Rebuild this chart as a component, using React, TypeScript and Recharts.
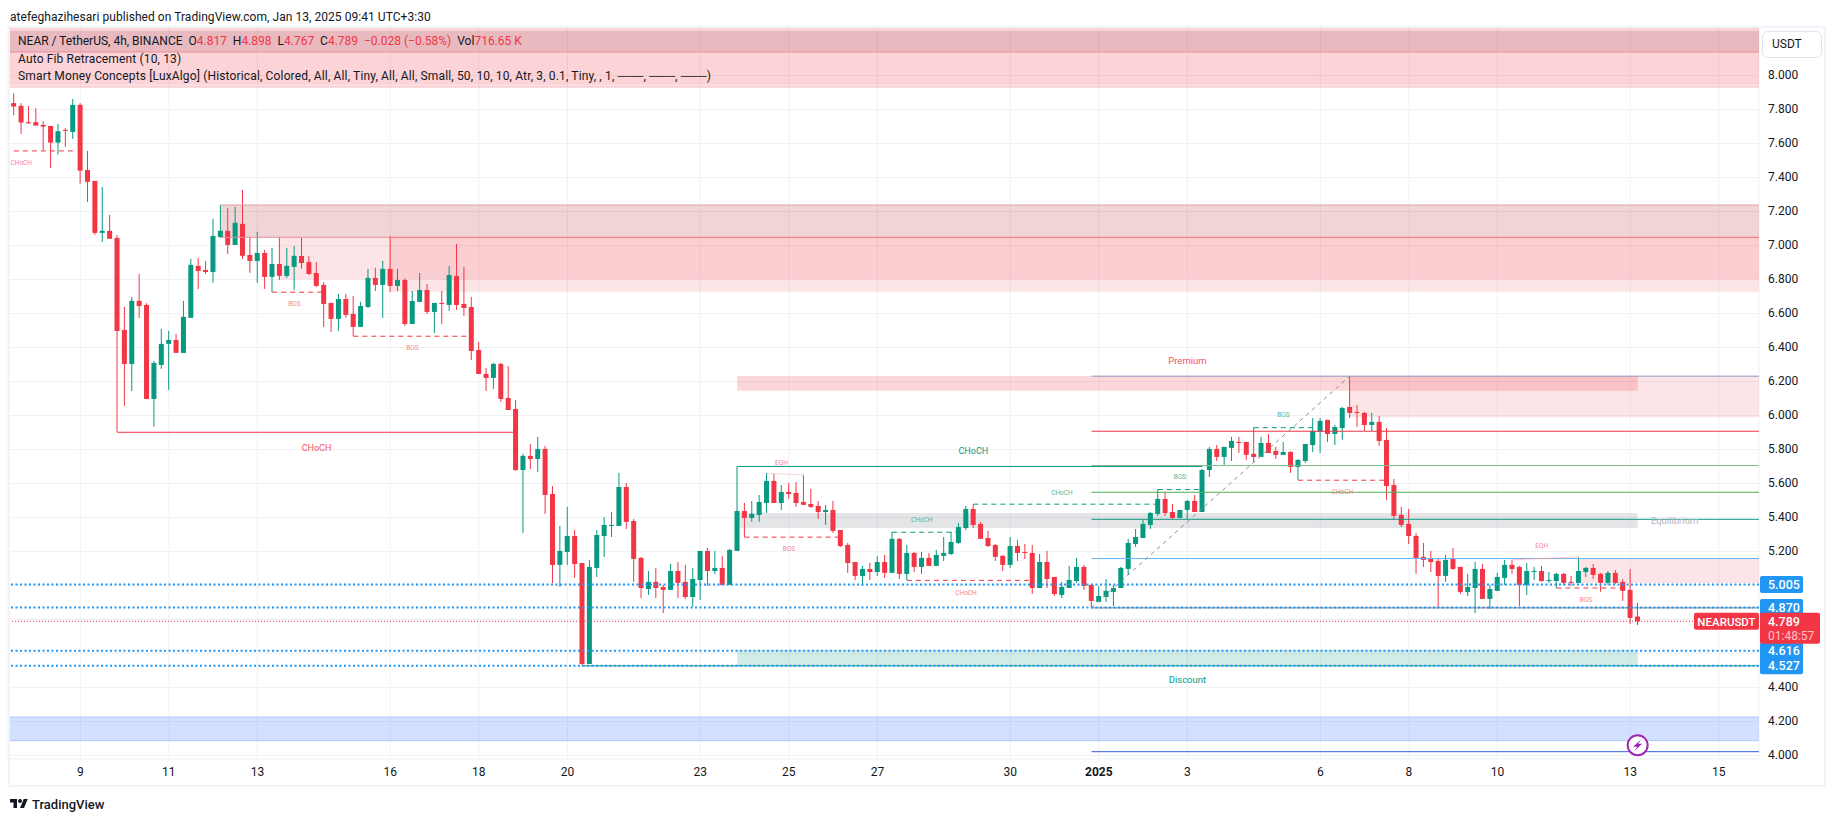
import React from "react";
import {
  ComposedChart, Bar, XAxis, YAxis, CartesianGrid, ReferenceLine, ReferenceArea, ReferenceDot,
} from "recharts";

// [open, high, low, close] for every 4h bar
const barsDecA = [
  [7.837,7.895,7.766,7.817],[7.821,7.837,7.656,7.723],[7.725,7.821,7.715,7.719],[7.725,7.807,7.705,7.705],[7.709,7.731,7.558,7.699],
  [7.703,7.703,7.456,7.605],[7.605,7.715,7.535,7.672],[7.680,7.691,7.580,7.676],[7.668,7.862,7.627,7.827],[7.827,7.837,7.362,7.440],
  [7.444,7.556,7.256,7.374],[7.380,7.380,7.062,7.074],[7.074,7.344,7.021,7.086],[7.086,7.180,7.039,7.039],[7.044,7.062,5.901,6.497],
  [6.503,6.639,6.056,6.303],[6.303,6.697,6.144,6.674],[6.674,6.833,6.574,6.644],[6.650,6.660,6.097,6.097],[6.097,6.321,5.933,6.309],
  [6.297,6.509,6.274,6.421],[6.421,6.497,6.150,6.444],[6.444,6.480,6.368,6.368],[6.368,6.674,6.368,6.580],[6.574,6.921,6.574,6.886],
  [6.880,6.927,6.744,6.850],[6.856,6.909,6.833,6.844],[6.844,7.156,6.780,7.056],[7.050,7.239,7.044,7.086],[7.086,7.221,6.950,7.003],
  [7.003,7.227,7.003,7.133],[7.127,7.327,6.921,6.939],[6.944,7.050,6.839,6.909],[6.909,7.080,6.780,6.956],[6.956,6.974,6.744,6.815],
  [6.815,6.986,6.725,6.891],[6.891,7.050,6.797,6.821],[6.821,6.986,6.809,6.880],[6.874,6.997,6.739,6.939],
];
const barsDecB = [
  [6.938,7.046,6.862,6.897],[6.903,6.938,6.826,6.832],[6.838,6.903,6.756,6.762],[6.768,6.783,6.521,6.656],[6.662,6.662,6.491,6.568],
  [6.568,6.715,6.497,6.685],[6.685,6.715,6.574,6.591],[6.597,6.703,6.466,6.521],[6.521,6.668,6.521,6.644],[6.638,6.862,6.632,6.809],
  [6.809,6.868,6.732,6.768],[6.768,6.909,6.574,6.862],[6.862,7.054,6.726,6.762],[6.762,6.862,6.732,6.797],[6.797,6.807,6.526,6.538],
  [6.538,6.732,6.538,6.673],[6.668,6.838,6.668,6.738],[6.738,6.773,6.597,6.609],[6.609,6.662,6.485,6.662],[6.662,6.732,6.538,6.656],
  [6.650,6.879,6.615,6.826],[6.821,7.009,6.621,6.650],[6.656,6.873,6.585,6.632],[6.638,6.697,6.326,6.379],[6.385,6.432,6.244,6.244],
  [6.244,6.279,6.144,6.221],[6.221,6.309,6.156,6.303],[6.303,6.309,6.079,6.097],[6.103,6.291,6.032,6.032],
];
const barsDecC = [
  [6.038,6.091,5.674,5.679],[5.679,5.774,5.309,5.762],[5.762,5.832,5.685,5.744],[5.744,5.874,5.668,5.803],[5.803,5.821,5.421,5.532],
  [5.538,5.585,5.015,5.121],[5.121,5.350,4.993,5.203],[5.197,5.462,5.121,5.291],[5.291,5.326,5.044,5.126],[5.132,5.132,4.528,4.538],
  [4.538,5.150,4.538,5.109],[5.103,5.326,5.050,5.297],[5.291,5.403,5.168,5.356],[5.350,5.432,5.285,5.356],[5.350,5.662,5.350,5.579],
  [5.579,5.603,5.332,5.374],[5.379,5.391,5.021,5.156],[5.162,5.168,4.926,4.985],[4.979,5.085,4.944,5.021],[5.021,5.103,4.926,4.985],
  [4.991,5.003,4.838,4.974],[4.974,5.126,4.974,5.085],[5.085,5.138,4.926,5.015],[5.021,5.121,4.921,4.932],[4.932,5.103,4.874,5.038],
  [5.032,5.203,4.915,5.203],[5.203,5.221,4.997,5.085],[5.085,5.203,5.068,5.103],[5.103,5.174,5.003,5.003],[5.003,5.215,5.003,5.209],
  [5.203,5.700,5.203,5.438],
];
const barsDecD = [
  [5.438,5.485,5.283,5.397],[5.397,5.497,5.374,5.421],[5.415,5.532,5.374,5.491],[5.485,5.662,5.426,5.615],[5.615,5.656,5.485,5.485],
  [5.485,5.591,5.444,5.550],[5.550,5.603,5.509,5.538],[5.544,5.609,5.462,5.485],[5.491,5.650,5.474,5.474],[5.479,5.568,5.456,5.462],
  [5.468,5.497,5.391,5.432],[5.432,5.474,5.356,5.444],[5.444,5.497,5.309,5.321],[5.326,5.326,5.226,5.232],[5.238,5.250,5.074,5.132],
  [5.138,5.138,5.032,5.056],[5.056,5.115,4.997,5.097],[5.097,5.132,5.032,5.079],[5.079,5.174,5.056,5.138],[5.138,5.179,5.044,5.074],
  [5.074,5.315,5.074,5.274],[5.274,5.279,5.038,5.068],[5.068,5.238,5.030,5.191],[5.191,5.197,5.079,5.109],[5.109,5.197,5.068,5.162],
  [5.162,5.191,5.115,5.115],[5.115,5.209,5.115,5.179],[5.174,5.285,5.144,5.191],[5.185,5.315,5.179,5.256],[5.250,5.368,5.244,5.344],
  [5.338,5.468,5.326,5.450],[5.450,5.479,5.338,5.356],[5.362,5.374,5.274,5.274],[5.279,5.321,5.226,5.232],[5.238,5.244,5.144,5.168],
];
const barsJanA = [
  [5.174,5.179,5.085,5.121],[5.121,5.285,5.103,5.232],[5.232,5.268,5.144,5.191],[5.197,5.244,5.156,5.191],[5.191,5.238,4.950,4.985],
  [4.985,5.185,4.985,5.138],[5.138,5.203,4.985,5.038],[5.050,5.050,4.938,4.950],[4.944,5.021,4.926,4.991],[4.985,5.115,4.985,5.032],
  [5.026,5.162,5.015,5.109],[5.109,5.121,4.974,4.997],[5.003,5.009,4.868,4.909],[4.903,4.997,4.903,4.938],[4.932,5.038,4.903,4.968],
  [4.962,5.003,4.879,4.985],[4.985,5.109,4.985,5.103],[5.097,5.274,5.062,5.250],[5.244,5.332,5.226,5.285],[5.279,5.385,5.279,5.362],
  [5.356,5.432,5.332,5.426],[5.421,5.566,5.409,5.509],[5.509,5.550,5.409,5.426],[5.432,5.480,5.391,5.397],[5.397,5.444,5.397,5.444],
  [5.444,5.503,5.391,5.497],[5.497,5.532,5.432,5.432],[5.432,5.685,5.432,5.679],[5.679,5.815,5.638,5.803],[5.803,5.826,5.732,5.756],
  [5.756,5.815,5.709,5.815],[5.809,5.874,5.732,5.850],[5.844,5.874,5.779,5.838],[5.844,5.844,5.738,5.768],[5.774,5.930,5.726,5.756],
  [5.756,5.874,5.756,5.838],[5.838,5.891,5.779,5.779],[5.791,5.815,5.744,5.768],[5.768,5.844,5.768,5.785],
];
const barsJanB = [
  [5.785,5.791,5.662,5.697],[5.697,5.744,5.621,5.738],[5.732,5.832,5.721,5.832],[5.826,5.985,5.785,5.909],[5.903,5.985,5.779,5.968],
  [5.974,5.974,5.844,5.891],[5.891,5.944,5.826,5.932],[5.926,6.050,5.856,6.044],[6.050,6.230,5.985,6.015],[6.021,6.062,5.932,6.015],
  [6.015,6.021,5.909,5.944],[5.944,6.015,5.909,5.962],[5.962,5.997,5.821,5.850],[5.856,5.926,5.503,5.585],[5.591,5.626,5.391,5.409],
  [5.415,5.462,5.344,5.356],[5.362,5.450,5.244,5.291],[5.291,5.309,5.068,5.162],[5.168,5.250,5.109,5.150],[5.156,5.203,5.079,5.138],
  [5.144,5.162,4.866,5.056],[5.056,5.179,5.021,5.150],[5.156,5.221,5.091,5.097],[5.109,5.109,4.950,4.962],[4.962,5.068,4.938,4.991],
  [4.985,5.138,4.838,5.097],[5.097,5.126,4.921,4.921],[4.921,5.003,4.862,4.979],[4.968,5.074,4.968,5.050],[5.044,5.150,5.003,5.121],
  [5.121,5.150,5.068,5.097],[5.109,5.115,4.879,5.003],[5.003,5.132,4.944,5.085],[5.079,5.109,5.032,5.085],[5.085,5.115,5.021,5.026],
  [5.026,5.079,5.015,5.032],[5.026,5.074,4.985,5.068],[5.068,5.074,5.003,5.015],[5.021,5.056,4.997,5.015],[5.015,5.168,5.015,5.085],
  [5.079,5.109,5.050,5.103],[5.103,5.126,5.038,5.062],[5.068,5.074,4.962,5.015],[5.015,5.085,5.003,5.074],[5.074,5.091,5.009,5.015],
  [5.021,5.038,4.909,4.968],[4.974,5.097,4.774,4.809],[4.817,4.898,4.767,4.789],
];

const priceTicks = [4, 4.2, 4.4, 4.6, 4.8, 5, 5.2, 5.4, 5.6, 5.8, 6, 6.2, 6.4, 6.6, 6.8, 7, 7.2, 7.4, 7.6, 7.8, 8];
const hiddenPriceLabels = [4.6, 4.8, 5];
const timeTicks = [9, 21, 33, 51, 63, 75, 93, 105, 117, 135, 147, 159, 177, 189, 201, 219, 231];
const timeLabels = ["9", "11", "13", "16", "18", "20", "23", "25", "27", "30", "2025", "3", "6", "8", "10", "13", "15"];

const UP = "#089981";
const DOWN = "#f23645";
const BLUE = "#2196f3";
const X_MIN = -0.795;
const X_MAX = 236.44;
const Y_MIN = 3.979;
const Y_MAX = 8.285;

// x1, x2, upper price, lower price, fill, opacity
const zones: [number, number, number, number, string, number][] = [
  [X_MIN, X_MAX, 8.285, 8.262, "#f23645", 0.22],
  [X_MIN, X_MAX, 8.262, 8.138, "#b21c2a", 0.3],
  [X_MIN, X_MAX, 8.138, 7.945, DOWN, 0.22],
  [X_MIN, X_MAX, 7.945, 7.932, DOWN, 0.14],
  [28, X_MAX, 7.238, 7.048, "#af2d32", 0.2],
  [36, X_MAX, 7.048, 6.8, DOWN, 0.13],
  [51, X_MAX, 7.048, 6.727, DOWN, 0.13],
  [98, 220, 6.232, 6.145, DOWN, 0.2],
  [181, X_MAX, 6.232, 5.99, DOWN, 0.13],
  [98, 220, 5.426, 5.338, "#787b86", 0.2],
  [212, X_MAX, 5.162, 5.015, DOWN, 0.13],
  [98, 220, 4.62, 4.527, UP, 0.19],
  [X_MIN, X_MAX, 4.226, 4.087, "#2962ff", 0.2],
];

// x1, x2, price at x1, price at x2, colour, width, dash
const segments: [number, number, number, number, string, number, string | undefined][] = [
  [X_MIN, X_MAX, 8.138, 8.138, "#ec8f97", 1, undefined],
  [X_MIN, X_MAX, 7.932, 7.932, "#f7b9be", 1, undefined],
  [28, X_MAX, 7.238, 7.238, "#e2a5a8", 1, undefined],
  [28, 51, 7.048, 7.048, "#e78c93", 1, undefined],
  [51, X_MAX, 7.048, 7.048, "#ee6c75", 1, undefined],
  [X_MIN, X_MAX, 4.226, 4.226, "#b4c9fb", 1, undefined],
  [X_MIN, X_MAX, 4.087, 4.087, "#b4c9fb", 1, undefined],
  // auto fib levels
  [146, X_MAX, 6.231, 6.231, "#8a9bc4", 1, undefined],
  [146, X_MAX, 5.907, 5.907, DOWN, 1, undefined],
  [146, X_MAX, 5.705, 5.705, "#81b98a", 1, undefined],
  [146, X_MAX, 5.548, 5.548, "#4caf50", 1, undefined],
  [146, X_MAX, 5.389, 5.389, UP, 1, undefined],
  [146, X_MAX, 5.158, 5.158, "#64b5f6", 1, undefined],
  [146, X_MAX, 4.868, 4.868, "#787b86", 1, undefined],
  [146, X_MAX, 4.022, 4.022, "#2f5fd8", 1, undefined],
  [146, 181, 4.868, 6.231, "#8b8e99", 1, "4 4"],
  // smart money structure
  [0, 8, 7.556, 7.556, DOWN, 1, "5 4"],
  [35, 42, 6.725, 6.725, DOWN, 1, "5 4"],
  [46, 62, 6.466, 6.466, DOWN, 1, "5 4"],
  [14, 68, 5.901, 5.901, DOWN, 1, undefined],
  [98, 161, 5.7, 5.7, UP, 1, undefined],
  [77, X_MAX, 4.527, 4.527, UP, 1, undefined],
  [102, 107, 5.66, 5.65, "#f7a6ad", 1, "1 1"],
  [99, 112, 5.284, 5.284, DOWN, 1, "5 4"],
  [119, 128, 5.313, 5.313, UP, 1, "5 4"],
  [130, 155, 5.478, 5.478, UP, 1, "5 4"],
  [121, 138, 5.03, 5.03, DOWN, 1, "5 4"],
  [155, 161, 5.564, 5.564, UP, 1, "5 4"],
  [168, 176, 5.928, 5.928, UP, 1, "5 4"],
  [174, 186, 5.619, 5.619, DOWN, 1, "5 4"],
  [203, 212, 5.15, 5.168, "#f7a6ad", 1, "1 1"],
  [209, 218, 4.985, 4.985, DOWN, 1, "5 4"],
];

const RED_SOFT = "#f7848f";
const TEAL_SOFT = "#4db9a4";
// x, price, text, colour, font size
const marks: [number, number, string, string, number][] = [
  [1, 7.485, "CHoCH", RED_SOFT, 6.5],
  [38, 6.656, "BOS", RED_SOFT, 6.5],
  [54, 6.397, "BOS", RED_SOFT, 6.5],
  [41, 5.81, "CHoCH", "#f2525f", 9],
  [130, 5.793, "CHoCH", UP, 9],
  [104, 5.72, "EQH", RED_SOFT, 6.5],
  [105, 5.219, "BOS", RED_SOFT, 6.5],
  [123, 5.384, "CHoCH", TEAL_SOFT, 6.5],
  [142, 5.548, "CHoCH", TEAL_SOFT, 6.5],
  [129, 4.96, "CHoCH", RED_SOFT, 6.5],
  [158, 5.642, "BOS", TEAL_SOFT, 6.5],
  [172, 6.007, "BOS", TEAL_SOFT, 6.5],
  [180, 5.554, "CHoCH", RED_SOFT, 6.5],
  [159, 6.322, "Premium", "#f2525f", 9.5],
  [225, 5.381, "Equilibrium", "#b2b5be", 9.5],
  [159, 4.444, "Discount", UP, 9.5],
  [207, 5.236, "EQH", RED_SOFT, 6.5],
  [213, 4.919, "BOS", RED_SOFT, 6.5],
];

const dottedLevels = [5.005, 4.87, 4.616, 4.527];
const lastPrice = 4.789;
const countdown = "01:48:57";
const symbolName = "NEARUSDT";
const eventPrice = 4.06;
const eventBar = 220;

const allBars = [...barsDecA, ...barsDecB, ...barsDecC, ...barsDecD, ...barsJanA, ...barsJanB];
const data = allBars.map(([open, high, low, close], i) => ({ i, open, high, low, close }));

const FONT = "Roboto, 'Noto Sans', sans-serif";

function Candle(props: any) {
  const { x, y, width, height, payload } = props;
  const { open, high, low, close } = payload;
  const up = close >= open;
  const color = up ? UP : DOWN;
  const unit = height / (high - low);
  const top = y + (high - Math.max(open, close)) * unit;
  const bodyH = Math.max(1, Math.abs(open - close) * unit);
  const cx = x + width / 2;
  return (
    <g>
      <rect x={cx - 0.5} y={y} width={1} height={height} fill={color} />
      <rect x={cx - 2.5} y={top} width={5} height={bodyH} fill={color} />
    </g>
  );
}

function PriceTag(props: any) {
  const { viewBox, text } = props;
  const x = viewBox.x + viewBox.width + 1;
  const y = viewBox.y;
  return (
    <g>
      <rect x={x} y={y - 8.5} width={43} height={17} rx={2} fill={BLUE} />
      <text x={x + 8} y={y + 4.5} fontSize={12.5} fontWeight={500} fill="#fff" fontFamily={FONT}>{text}</text>
    </g>
  );
}

function LastTag(props: any) {
  const { viewBox } = props;
  const x = viewBox.x + viewBox.width;
  const y = viewBox.y;
  return (
    <g>
      <rect x={x - 65} y={y - 8.5} width={65} height={17} rx={2} fill={DOWN} />
      <text x={x - 32.5} y={y + 4.5} textAnchor="middle" fontSize={11.5} fontWeight={500} fill="#fff" fontFamily={FONT}>{symbolName}</text>
      <rect x={x + 1} y={y - 8.5} width={60} height={31} rx={2} fill={DOWN} />
      <text x={x + 9} y={y + 4.5} fontSize={12.5} fontWeight={500} fill="#fff" fontFamily={FONT}>{lastPrice.toFixed(3)}</text>
      <text x={x + 9} y={y + 18.5} fontSize={12} fill="#fbc4c9" fontFamily={FONT}>{countdown}</text>
    </g>
  );
}

function PriceTick(props: any) {
  const { x, y, payload } = props;
  if (hiddenPriceLabels.includes(payload.value)) return <g />;
  return (
    <text x={x} y={y + 4} textAnchor="start" fontSize={12} fontFamily={FONT} fill="#131722">{payload.value.toFixed(3)}</text>
  );
}

function TimeTick(props: any) {
  const { x, y, payload } = props;
  const label = timeLabels[timeTicks.indexOf(payload.value)];
  return (
    <text x={x} y={y + 9} textAnchor="middle" fontSize={12} fontFamily={FONT} fill="#131722" fontWeight={label === "2025" ? 700 : 400}>{label}</text>
  );
}

function EventIcon(props: any) {
  const { cx, cy } = props;
  return (
    <g>
      <circle cx={cx} cy={cy} r={10} fill="#fff" stroke="#9c27b0" strokeWidth={2} />
      <path d={`M${cx + 3.5} ${cy - 6} L${cx - 4.5} ${cy + 1.5} H${cx - 0.5} L${cx - 3.5} ${cy + 6} L${cx + 4.5} ${cy - 1.5} H${cx + 0.5} Z`} fill="#9c27b0" />
    </g>
  );
}

export default function App() {
  return (
    <div style={{ position: "absolute", left: 0, top: 0, width: 1835, height: 821, background: "#fff", overflow: "hidden", fontFamily: FONT, color: "#131722" }}>
      <ComposedChart
        width={1835}
        height={821}
        data={data}
        margin={{ top: 27, right: 10, bottom: 35, left: 8 }}
        style={{ position: "absolute", left: 0, top: 0 }}
      >
        <CartesianGrid stroke="#f0f1f4" strokeWidth={1} />
        <XAxis
          dataKey="i"
          type="number"
          domain={[X_MIN, X_MAX]}
          allowDataOverflow
          ticks={timeTicks}
          interval={0}
          height={27}
          axisLine={false}
          tickLine={false}
          tick={<TimeTick />}
        />
        <YAxis
          orientation="right"
          type="number"
          domain={[Y_MIN, Y_MAX]}
          allowDataOverflow
          ticks={priceTicks}
          interval={0}
          width={66}
          axisLine={false}
          tickLine={false}
          tickMargin={3}
          tick={<PriceTick />}
        />
        {zones.map(([x1, x2, top, bottom, fill, opacity], k) => (
          <ReferenceArea key={`z${k}`} x1={x1} x2={x2} y1={bottom} y2={top} fill={fill} fillOpacity={opacity} stroke="none" />
        ))}
        {segments.map(([x1, x2, y1, y2, color, width, dash], k) => (
          <ReferenceLine
            key={`s${k}`}
            segment={[{ x: x1, y: y1 }, { x: x2, y: y2 }]}
            stroke={color}
            strokeWidth={width}
            strokeDasharray={dash}
          />
        ))}
        {marks.map(([x, y, text, color, size], k) => (
          <ReferenceDot
            key={`m${k}`}
            x={x}
            y={y}
            r={0}
            stroke="none"
            fill="none"
            label={{ value: text, position: "center", fill: color, fontSize: size, fontFamily: FONT }}
          />
        ))}
        {dottedLevels.map((p) => (
          <ReferenceLine
            key={`d${p}`}
            y={p}
            stroke={BLUE}
            strokeWidth={2}
            strokeDasharray="2 2.5"
            label={<PriceTag text={p.toFixed(3)} />}
          />
        ))}
        <ReferenceLine y={lastPrice} stroke={DOWN} strokeWidth={1} strokeDasharray="1 2" label={<LastTag />} />
        <Bar dataKey={(d: any) => [d.low, d.high]} barSize={5} shape={<Candle />} isAnimationActive={false} />
        <ReferenceDot x={eventBar} y={eventPrice} r={10} shape={<EventIcon />} />
      </ComposedChart>

      <div style={{ position: "absolute", left: 8, top: 26, width: 1814, height: 757, border: "2px solid #f0f3fa" }} />
      <div style={{ position: "absolute", left: 1760, top: 759, width: 64, height: 6, background: "#fff" }} />

      <div style={{ position: "absolute", left: 10, top: 9, fontSize: 12, letterSpacing: 0.05, lineHeight: "16px", whiteSpace: "nowrap" }}>
        atefeghazihesari published on TradingView.com, Jan 13, 2025 09:41 UTC+3:30
      </div>
      <div style={{ position: "absolute", left: 18, top: 33, fontSize: 12, lineHeight: "17px", whiteSpace: "nowrap" }}>
        NEAR / TetherUS, 4h, BINANCE&nbsp;&nbsp;O<span style={{ color: DOWN }}>4.817</span>&nbsp;&nbsp;H<span style={{ color: DOWN }}>4.898</span>&nbsp;&nbsp;L<span style={{ color: DOWN }}>4.767</span>&nbsp;&nbsp;C<span style={{ color: DOWN }}>4.789</span>&nbsp;&nbsp;<span style={{ color: DOWN }}>−0.028 (−0.58%)</span>&nbsp;&nbsp;Vol<span style={{ color: DOWN }}>716.65 K</span>
      </div>
      <div style={{ position: "absolute", left: 18, top: 51, fontSize: 12, letterSpacing: 0.15, lineHeight: "17px", whiteSpace: "nowrap" }}>
        Auto Fib Retracement (10, 13)
      </div>
      <div style={{ position: "absolute", left: 18, top: 68, fontSize: 12, letterSpacing: 0.15, lineHeight: "17px", whiteSpace: "nowrap" }}>
        Smart Money Concepts [LuxAlgo] (Historical, Colored, All, All, Tiny, All, All, Small, 50, 10, 10, Atr, 3, 0.1, Tiny, , 1, ───, ───, ───)
      </div>

      <div style={{ position: "absolute", left: 1762, top: 31, width: 49, height: 25, border: "1px solid #e0e3eb", borderRadius: 6, fontSize: 12, lineHeight: "25px", paddingLeft: 9 }}>USDT</div>

      <div style={{ position: "absolute", left: 10, top: 796, display: "flex", alignItems: "center", gap: 4, height: 16 }}>
        <svg width={18} height={14} viewBox="0 0 36 28" fill="#131722">
          <path d="M14 22H7V11H0V4h14v18zM28 22h-8l7.5-18h8L28 22z" />
          <circle cx="20" cy="8" r="4" />
        </svg>
        <span style={{ fontSize: 13, fontWeight: 500, color: "#131722" }}>TradingView</span>
      </div>
    </div>
  );
}
